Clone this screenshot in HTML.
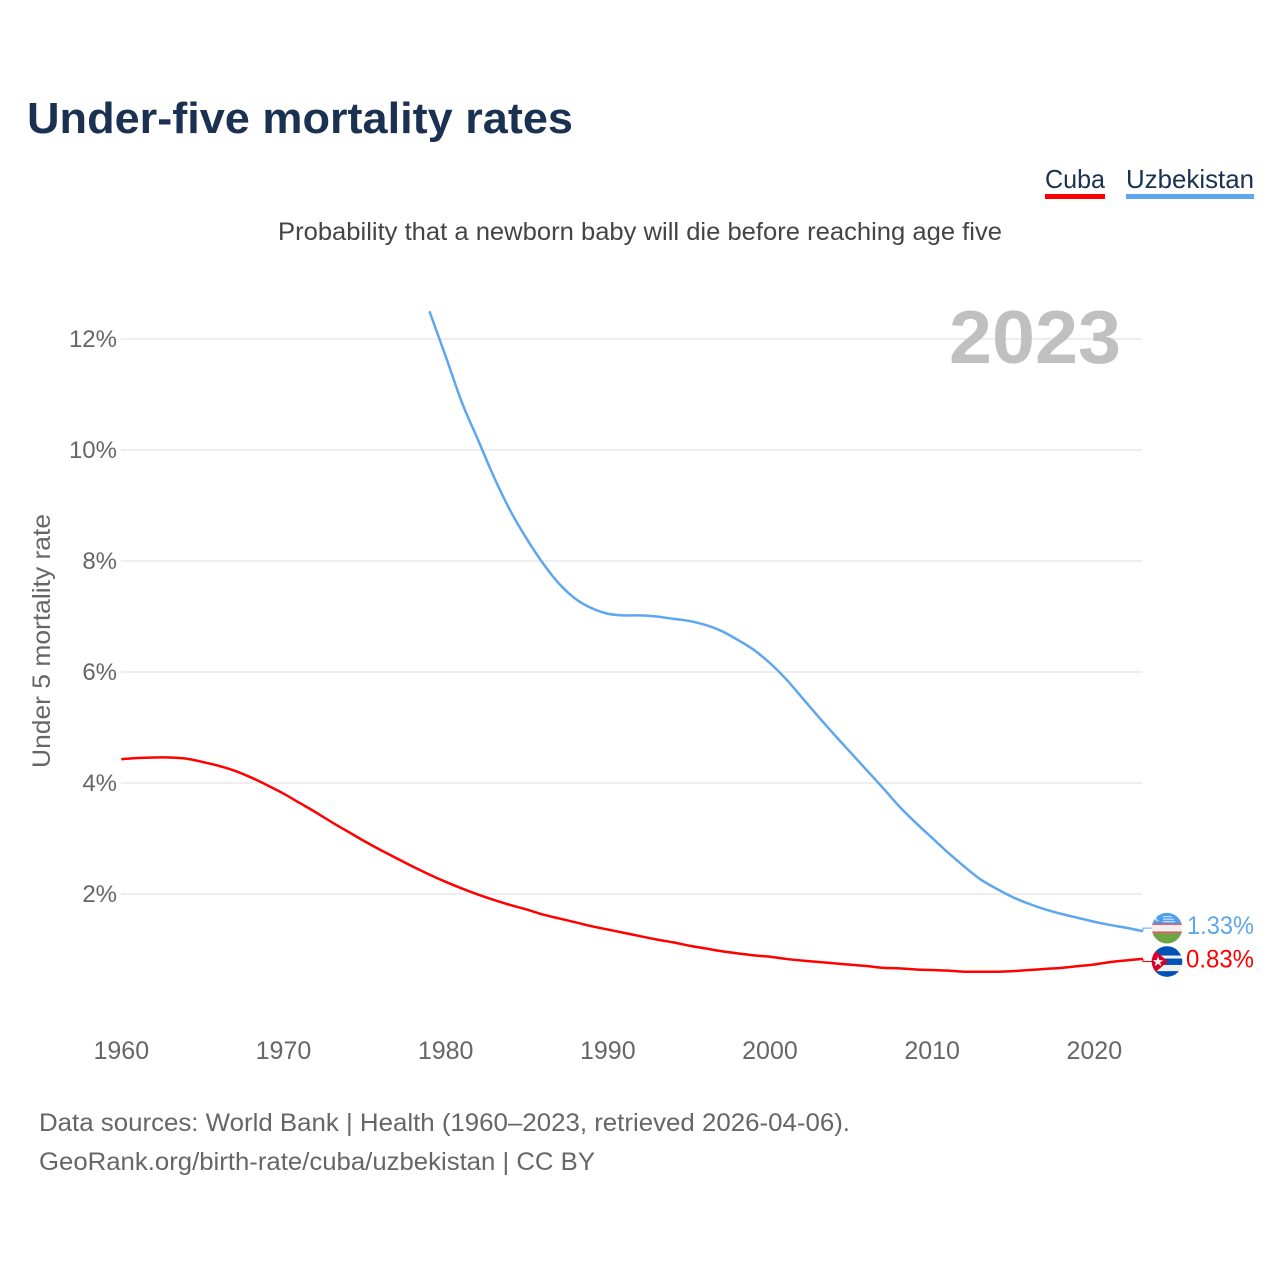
<!DOCTYPE html>
<html lang="en">
<head>
<meta charset="utf-8">
<title>Under-five mortality rates</title>
<style>
html,body{margin:0;padding:0;background:#fff;}
svg{display:block;}
text{font-family:"Liberation Sans",Arial,sans-serif;}
</style>
</head>
<body>
<svg id="chart" xmlns="http://www.w3.org/2000/svg" width="1280" height="1280" viewBox="0 0 1280 1280">
  <defs>
    <clipPath id="flag-clip"><circle cx="0" cy="0" r="15.3"></circle></clipPath>
  </defs>
  <rect x="0" y="0" width="1280" height="1280" fill="#ffffff"></rect>
  <text x="27" y="133" font-size="44" font-weight="700" fill="#1a3152" textLength="546" lengthAdjust="spacingAndGlyphs">Under-five mortality rates</text>
  <text x="278" y="240" font-size="25" fill="#444444" textLength="724" lengthAdjust="spacingAndGlyphs">Probability that a newborn baby will die before reaching age five</text>

  <g>
    <text x="1045" y="188" font-size="26" fill="#1a3152" textLength="60" lengthAdjust="spacingAndGlyphs">Cuba</text>
    <rect x="1045" y="194" width="60" height="5" fill="#ff0000"></rect>
  </g>
  <g>
    <text x="1126" y="188" font-size="26" fill="#1a3152" textLength="128" lengthAdjust="spacingAndGlyphs">Uzbekistan</text>
    <rect x="1126" y="194" width="128" height="5" fill="#5ea6ee"></rect>
  </g>

  <g id="grid"></g>
  <g id="y-ticks"></g>
  <g id="x-ticks"></g>

  <text transform="translate(50,641) rotate(-90)" text-anchor="middle" font-size="25" fill="#666666" textLength="254" lengthAdjust="spacingAndGlyphs">Under 5 mortality rate</text>

  <text x="949" y="363" font-size="75" font-weight="700" fill="#c0c0c0" textLength="172" lengthAdjust="spacingAndGlyphs">2023</text>

  <g id="series"></g>

  <g id="flag-uzbekistan">
    <g clip-path="url(#flag-clip)">
      <rect x="-16" y="-16" width="32" height="32" fill="#f0f0f0"></rect>
      <rect x="-16" y="-16" width="32" height="11.3" fill="#4f9ff0"></rect>
      <rect x="-16" y="-4.7" width="32" height="1.4" fill="#e8505f"></rect>
      <rect x="-16" y="3.3" width="32" height="1.6" fill="#e8505f"></rect>
      <rect x="-16" y="4.9" width="32" height="11.1" fill="#6da544"></rect>
      <circle cx="-9" cy="-10.2" r="3.2" fill="#f0f0f0"></circle>
      <circle cx="-7.8" cy="-10.2" r="2.8" fill="#4f9ff0"></circle>
      <rect x="-4" y="-12" width="9" height="1" fill="#dcebfb"></rect>
      <rect x="-4" y="-9.5" width="11" height="1" fill="#dcebfb"></rect>
      <rect x="-4" y="-7" width="12" height="1" fill="#dcebfb"></rect>
    </g>
  </g>
  <g id="flag-cuba">
    <g clip-path="url(#flag-clip)">
      <rect x="-16" y="-16" width="32" height="32" fill="#f0f0f0"></rect>
      <rect x="-16" y="-16" width="32" height="10" fill="#0052b4"></rect>
      <rect x="-16" y="-3" width="32" height="6.4" fill="#0052b4"></rect>
      <rect x="-16" y="9.6" width="32" height="7" fill="#0052b4"></rect>
      <polygon points="-15.5,-14 1,0 -15.5,14" fill="#d80027"></polygon>
      <polygon points="-9,-5 -7.6,-1.4 -3.8,-1.4 -6.8,0.9 -5.7,4.6 -9,2.4 -12.3,4.6 -11.2,0.9 -14.2,-1.4 -10.4,-1.4" fill="#f0f0f0"></polygon>
    </g>
  </g>

  <text x="39" y="1131" font-size="25" fill="#666666" textLength="811" lengthAdjust="spacingAndGlyphs">Data sources: World Bank | Health (1960–2023, retrieved 2026-04-06).</text>
  <text x="39" y="1170" font-size="25" fill="#666666" textLength="556" lengthAdjust="spacingAndGlyphs">GeoRank.org/birth-rate/cuba/uzbekistan | CC BY</text>
</svg>
<script>
const yearTicks = [1960, 1970, 1980, 1990, 2000, 2010, 2020];
const percentTicks = [2, 4, 6, 8, 10, 12];
const cubaStartYear = 1960;
const cubaValues = [4.43, 4.45, 4.46, 4.46, 4.44, 4.38, 4.31, 4.22, 4.10, 3.96,
  3.81, 3.64, 3.47, 3.29, 3.12, 2.95, 2.79, 2.64, 2.49, 2.35,
  2.22, 2.10, 1.99, 1.89, 1.80, 1.72, 1.63, 1.56, 1.49, 1.42,
  1.36, 1.30, 1.24, 1.18, 1.13, 1.07, 1.02, 0.97, 0.93, 0.895,
  0.87, 0.83, 0.80, 0.775, 0.75, 0.725, 0.70, 0.67, 0.66, 0.64,
  0.63, 0.62, 0.60, 0.60, 0.60, 0.61, 0.63, 0.65, 0.67, 0.70,
  0.73, 0.775, 0.805, 0.83];
const uzbekistanStartYear = 1979;
const uzbekistanValues = [12.50, 11.69, 10.86, 10.18, 9.50, 8.90, 8.40, 7.96, 7.59, 7.32, 7.15,
  7.05, 7.02, 7.02, 7.00, 6.96, 6.92, 6.85, 6.74, 6.58, 6.40,
  6.16, 5.87, 5.53, 5.19, 4.86, 4.54, 4.22, 3.90, 3.57, 3.28,
  3.01, 2.74, 2.49, 2.26, 2.09, 1.94, 1.82, 1.72, 1.64, 1.57,
  1.50, 1.44, 1.39, 1.33];

const NS = 'http://www.w3.org/2000/svg';
function xScale(year) { return 121.3 + (year - 1960) * 16.217; }
function yScale(pct) { return 1005 - pct * 55.5; }

function svgEl(tag, attrs, parent) {
  const el = document.createElementNS(NS, tag);
  Object.keys(attrs).forEach(function (k) { el.setAttribute(k, attrs[k]); });
  parent.appendChild(el);
  return el;
}

const gridGroup = document.getElementById('grid');
const yTickGroup = document.getElementById('y-ticks');
const xTickGroup = document.getElementById('x-ticks');
const seriesGroup = document.getElementById('series');
const svgRoot = document.getElementById('chart');

percentTicks.forEach(function (p) {
  const line = svgEl('line', { x1: 121, x2: 1142, y1: yScale(p), y2: yScale(p), stroke: '#eeeeee', 'stroke-width': 2 }, gridGroup);
  
  
  const label = svgEl('text', { x: 117, y: yScale(p) + 8, 'text-anchor': 'end', 'font-size': 24, fill: '#666666' }, yTickGroup);
  label.textContent = p + '%';
  
  
});

yearTicks.forEach(function (yr) {
  const label = svgEl('text', { x: xScale(yr), y: 1059, 'text-anchor': 'middle', 'font-size': 25, fill: '#666666' }, xTickGroup);
  label.textContent = String(yr);
  
  
});

function linePath(startYear, values) {
  const pts = values.map(function (v, i) {
    return [xScale(startYear + i), yScale(v)];
  });
  let d = 'M' + pts[0][0].toFixed(2) + ' ' + pts[0][1].toFixed(2);
  for (let i = 0; i < pts.length - 1; i++) {
    const p0 = pts[Math.max(i - 1, 0)];
    const p1 = pts[i];
    const p2 = pts[i + 1];
    const p3 = pts[Math.min(i + 2, pts.length - 1)];
    d += ' C' + (p1[0] + (p2[0] - p0[0]) / 6).toFixed(2) + ' ' + (p1[1] + (p2[1] - p0[1]) / 6).toFixed(2) +
      ' ' + (p2[0] - (p3[0] - p1[0]) / 6).toFixed(2) + ' ' + (p2[1] - (p3[1] - p1[1]) / 6).toFixed(2) +
      ' ' + p2[0].toFixed(2) + ' ' + p2[1].toFixed(2);
  }
  return d;
}

const uzbekLine = svgEl('path', { d: linePath(uzbekistanStartYear, uzbekistanValues), fill: 'none', stroke: '#5ea6ee', 'stroke-width': 2.5, 'stroke-linejoin': 'round' }, seriesGroup);


const cubaLine = svgEl('path', { d: linePath(cubaStartYear, cubaValues), fill: 'none', stroke: '#ff0000', 'stroke-width': 2.5, 'stroke-linejoin': 'round' }, seriesGroup);



const uzbekLast = uzbekistanValues[uzbekistanValues.length - 1];
const cubaLast = cubaValues[cubaValues.length - 1];
const uzbekEndX = xScale(uzbekistanStartYear + uzbekistanValues.length - 1);
const cubaEndX = xScale(cubaStartYear + cubaValues.length - 1);
const uzbekFlagY = yScale(uzbekLast) - 3;
const cubaFlagY = yScale(cubaLast) + 2.6;

const uzbekConnector = svgEl('path', { d: 'M' + uzbekEndX + ' ' + yScale(uzbekLast) + ' V' + uzbekFlagY + ' H1153', fill: 'none', stroke: '#5ea6ee', 'stroke-width': 1 }, seriesGroup);


const cubaConnector = svgEl('path', { d: 'M' + cubaEndX + ' ' + yScale(cubaLast) + ' V' + cubaFlagY + ' H1153', fill: 'none', stroke: '#ff0000', 'stroke-width': 1 }, seriesGroup);



document.getElementById('flag-uzbekistan').setAttribute('transform', 'translate(1167,' + uzbekFlagY + ')');
document.getElementById('flag-cuba').setAttribute('transform', 'translate(1167,' + cubaFlagY + ')');

const uzbekLabel = svgEl('text', { x: 1187, y: uzbekFlagY + 6, 'font-size': 25, fill: '#5ea6ee', textLength: 67, lengthAdjust: 'spacingAndGlyphs' }, svgRoot);
uzbekLabel.textContent = uzbekLast.toFixed(2) + '%';


const cubaLabel = svgEl('text', { x: 1186, y: cubaFlagY + 6, 'font-size': 25, fill: '#ff0000', textLength: 68, lengthAdjust: 'spacingAndGlyphs' }, svgRoot);
cubaLabel.textContent = cubaLast.toFixed(2) + '%';


</script>
</body>
</html>
